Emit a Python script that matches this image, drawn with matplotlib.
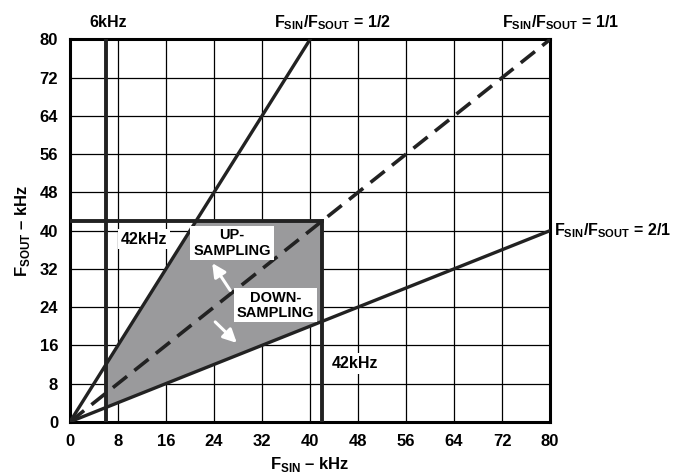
import matplotlib.pyplot as plt
from matplotlib.patches import Polygon

plt.rcParams['font.family'] = ['Liberation Sans', 'DejaVu Sans']
plt.rcParams['font.weight'] = 'bold'
plt.rcParams['mathtext.fontset'] = 'custom'
plt.rcParams['mathtext.rm'] = 'Liberation Sans:bold'
plt.rcParams['mathtext.bf'] = 'Liberation Sans:bold'

# ratio lines F_SOUT = k * F_SIN
ratios = [2.0, 1.0, 0.5]
ratio_labels = ['1/2', '1/1', '2/1']
f_min = 6      # kHz lower limit
f_max = 42     # kHz upper limit
ticks = [0, 8, 16, 24, 32, 40, 48, 56, 64, 72, 80]

fig = plt.figure(figsize=(6.82, 4.75), dpi=100)
ax = fig.add_axes([0.1026, 0.112, 0.704, 0.805])
ax.set_xlim(0, 80)
ax.set_ylim(0, 80)
ax.set_xticks(ticks)
ax.set_yticks(ticks)
ax.grid(True, color='black', lw=0.9)
ax.tick_params(length=0, labelsize=12, pad=8.5)
for s in ax.spines.values():
    s.set_linewidth(2.2)

# shaded allowed region
region = [(f_min, f_min * ratios[2]), (f_min, f_min * ratios[0]),
          (f_max / ratios[0], f_max), (f_max, f_max), (f_max, f_max * ratios[2])]
ax.add_patch(Polygon(region, closed=True, facecolor='#9a9a9c', edgecolor='none', zorder=2))

# limit lines
ax.plot([f_min, f_min], [0, 80], color='#222222', lw=2.8, zorder=3)
ax.plot([0, f_max], [f_max, f_max], color='#222222', lw=2.8, zorder=3)
ax.plot([f_max, f_max], [0, f_max], color='#222222', lw=2.8, zorder=3)

# ratio lines
for k in ratios:
    xe = min(80, 80 / k)
    if k == 1.0:
        ax.plot([0, xe], [0, xe * k], color='#222222', lw=2.6, ls=(0, (5, 2.6)), zorder=4)
    else:
        ax.plot([0, xe], [0, xe * k], color='#222222', lw=2.4, zorder=4)

ax.set_xlabel('F$_{\\mathrm{SIN}}$ – kHz', fontsize=12, fontweight='bold')
ax.set_ylabel('F$_{\\mathrm{SOUT}}$ – kHz', fontsize=12, fontweight='bold')
ax.xaxis.set_label_coords(0.5, -0.087)
ax.yaxis.set_label_coords(-0.079, 0.5)

lbl = dict(fontsize=11.5, fontweight='bold', clip_on=False)
ratio_txt = 'F$_{\\mathrm{SIN}}$/F$_{\\mathrm{SOUT}}$ = '
ax.text(6.3, 83.6, '6kHz', ha='center', va='center', **lbl)
ax.text(43.8, 83.6, ratio_txt + ratio_labels[0], ha='center', va='center', **lbl)
ax.text(81.7, 83.6, ratio_txt + ratio_labels[1], ha='center', va='center', **lbl)
ax.text(80.6, 40, ratio_txt + ratio_labels[2], ha='left', va='center', **lbl)

box = dict(facecolor='white', edgecolor='none', pad=2)
ax.text(12.4, 38.2, '42kHz', ha='center', va='center', bbox=box, zorder=6, **lbl)
ax.text(47.5, 12.2, '42kHz', ha='center', va='center', bbox=box, zorder=6, **lbl)
ax.text(27.0, 37.4, 'UP-\nSAMPLING', ha='center', va='center', fontsize=10.5,
        fontweight='bold', linespacing=1.1, bbox=box, zorder=6)
ax.text(34.2, 24.4, 'DOWN-\nSAMPLING', ha='center', va='center', fontsize=10.5,
        fontweight='bold', linespacing=1.1, bbox=box, zorder=6)

arrow = dict(arrowstyle='-|>,head_length=0.8,head_width=0.4', color='white', lw=2.2,
             shrinkA=0, shrinkB=0)
ax.annotate('', xy=(23.7, 33.2), xytext=(26.7, 27.5), arrowprops=arrow, zorder=7)
ax.annotate('', xy=(27.8, 16.5), xytext=(24.2, 20.9), arrowprops=arrow, zorder=7)

fig.savefig('out.png', dpi=100)
